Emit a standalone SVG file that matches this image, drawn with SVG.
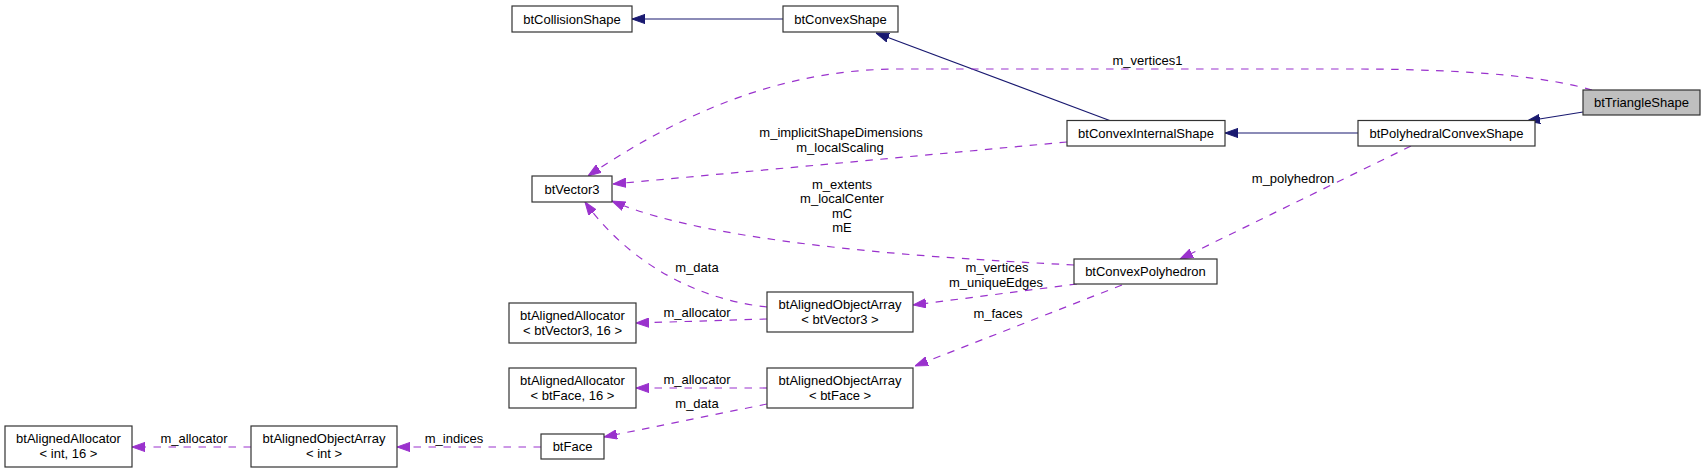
<svg xmlns="http://www.w3.org/2000/svg" width="1705" height="473" viewBox="0 0 1705 473">
<style>
text{font-family:"Liberation Sans",Arial,sans-serif;font-size:13px;fill:#000;text-anchor:middle}
.node rect{fill:#fff;stroke:#333;stroke-width:1.2}
.node.cur rect{fill:#bfbfbf}
.inh{fill:none;stroke:#191970;stroke-width:1.2;marker-end:url(#ah)}
.mem{fill:none;stroke:#9a32cd;stroke-width:1.2;stroke-dasharray:7.5,7.5;marker-end:url(#am)}
</style>
<defs>
<marker id="ah" viewBox="0 0 13 10" refX="13" refY="5" markerWidth="13" markerHeight="10" markerUnits="userSpaceOnUse" orient="auto"><path d="M0,0.4 L13,5 L0,9.6 z" fill="#191970" stroke="#191970"/></marker>
<marker id="am" viewBox="0 0 13 10" refX="13" refY="5" markerWidth="13" markerHeight="10" markerUnits="userSpaceOnUse" orient="auto"><path d="M0,0.4 L13,5 L0,9.6 z" fill="#9a32cd" stroke="#9a32cd"/></marker>
</defs>
<rect width="1705" height="473" fill="#fff"/>
<g id="connectors">
<path class="inh" d="M783,19 L632,19"/>
<path class="inh" d="M1111,121 L876,33"/>
<path class="inh" d="M1358,133 L1225,133"/>
<path class="inh" d="M1583,112 L1527,121"/>
<path class="mem" d="M1592,90 C1550,78 1480,69 1350,69 L900,69 C800,69 700,100 588,176"/>
<path class="mem" d="M1067,142 L613,184"/>
<path class="mem" d="M1074,265 C980,260 720,248 612,201"/>
<path class="mem" d="M767,307 C700,300 630,265 585,202"/>
<path class="mem" d="M1077,284 L913,305"/>
<path class="mem" d="M767,319 L636,323"/>
<path class="mem" d="M1411,146 L1180,259"/>
<path class="mem" d="M1122,285 L915,366"/>
<path class="mem" d="M767,388 L636,388"/>
<path class="mem" d="M767,404 L604,437"/>
<path class="mem" d="M541,447 L397,447"/>
<path class="mem" d="M251,447 L132,447"/>
<text x="1147.5" y="64.5">m_vertices1</text>
<text x="841" y="137">m_implicitShapeDimensions</text>
<text x="840" y="152">m_localScaling</text>
<text x="842" y="188.5">m_extents</text>
<text x="842" y="203">m_localCenter</text>
<text x="842" y="217.5">mC</text>
<text x="842" y="232">mE</text>
<text x="697" y="272">m_data</text>
<text x="697" y="317">m_allocator</text>
<text x="997" y="272">m_vertices</text>
<text x="996" y="287">m_uniqueEdges</text>
<text x="1293" y="183">m_polyhedron</text>
<text x="998" y="318">m_faces</text>
<text x="697" y="384">m_allocator</text>
<text x="697" y="408">m_data</text>
<text x="454" y="443">m_indices</text>
<text x="194" y="443">m_allocator</text>
</g>
<g id="btCollisionShape" class="node"><rect x="512" y="6" width="120" height="26"/><text x="572" y="23.5">btCollisionShape</text></g>
<g id="btConvexShape" class="node"><rect x="783" y="6" width="115" height="26"/><text x="840.5" y="23.5">btConvexShape</text></g>
<g id="btTriangleShape" class="node cur"><rect x="1583" y="90" width="117" height="25"/><text x="1641.5" y="107">btTriangleShape</text></g>
<g id="btPolyhedralConvexShape" class="node"><rect x="1358" y="120.5" width="177" height="25.5"/><text x="1446.5" y="137.5">btPolyhedralConvexShape</text></g>
<g id="btConvexInternalShape" class="node"><rect x="1067" y="120.5" width="158" height="25.5"/><text x="1146" y="137.5">btConvexInternalShape</text></g>
<g id="btVector3" class="node"><rect x="532" y="176" width="80" height="26"/><text x="572" y="193.5">btVector3</text></g>
<g id="btConvexPolyhedron" class="node"><rect x="1074" y="259" width="143" height="25"/><text x="1145.5" y="276">btConvexPolyhedron</text></g>
<g id="btAlignedObjectArray_btVector3" class="node"><rect x="767" y="292" width="146" height="40"/><text x="840" y="308.5">btAlignedObjectArray</text><text x="840" y="323.5">&lt; btVector3 &gt;</text></g>
<g id="btAlignedAllocator_btVector3" class="node"><rect x="509" y="303" width="127" height="40"/><text x="572.5" y="319.5">btAlignedAllocator</text><text x="572.5" y="334.5">&lt; btVector3, 16 &gt;</text></g>
<g id="btAlignedObjectArray_btFace" class="node"><rect x="767" y="368" width="146" height="40"/><text x="840" y="384.5">btAlignedObjectArray</text><text x="840" y="399.5">&lt; btFace &gt;</text></g>
<g id="btAlignedAllocator_btFace" class="node"><rect x="509" y="368" width="127" height="40"/><text x="572.5" y="384.5">btAlignedAllocator</text><text x="572.5" y="399.5">&lt; btFace, 16 &gt;</text></g>
<g id="btFace" class="node"><rect x="541" y="434" width="63" height="25"/><text x="572.5" y="451">btFace</text></g>
<g id="btAlignedObjectArray_int" class="node"><rect x="251" y="426" width="146" height="41"/><text x="324" y="443">btAlignedObjectArray</text><text x="324" y="458">&lt; int &gt;</text></g>
<g id="btAlignedAllocator_int" class="node"><rect x="5" y="426" width="127" height="41"/><text x="68.5" y="443">btAlignedAllocator</text><text x="68.5" y="458">&lt; int, 16 &gt;</text></g>
</svg>
